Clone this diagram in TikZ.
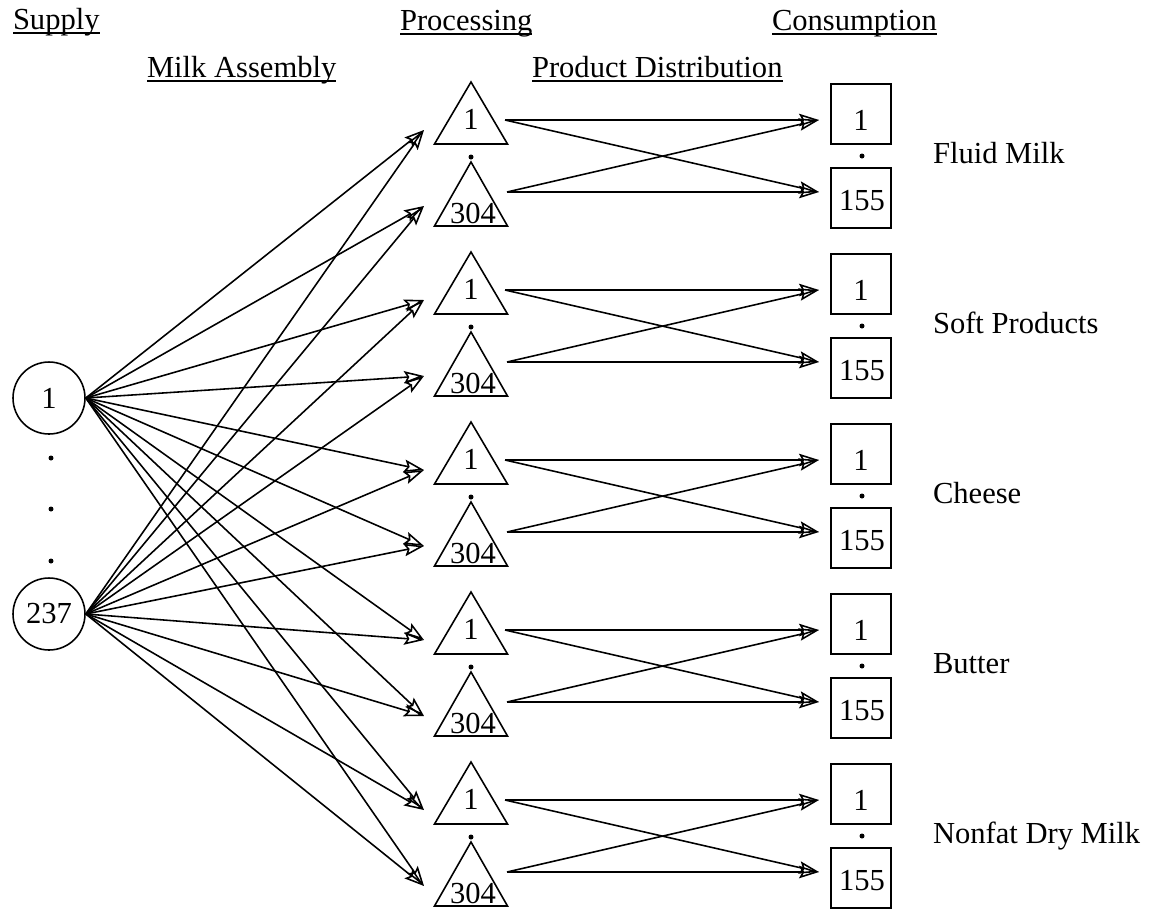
\documentclass[tikz,border=0pt]{standalone}
\usepackage{fontspec}
\setmainfont{Liberation Serif}
\usetikzlibrary{arrows.meta}
\begin{document}
\begin{tikzpicture}[x=0.02cm,y=-0.02cm,
  txt/.style={inner sep=0pt, outer sep=0pt, font=\fontsize{17.4pt}{20pt}\selectfont},
  hdr/.style={txt, anchor=base west},
  ul/.style={line width=1pt},
  circ/.style={draw, circle, minimum size=1.44cm, inner sep=0pt, line width=0.9pt, font=\fontsize{17.4pt}{20pt}\selectfont},
  boxnode/.style={draw, rectangle, minimum width=1.2cm, minimum height=1.2cm, inner sep=0pt, line width=0.9pt},
  tri/.style={draw, line width=0.9pt, line join=miter},
  arr/.style={line width=0.9pt, -{Stealth[open, length=0.4cm, width=0.25cm, inset=0.07cm]}},
  dotm/.style={fill, circle, inner sep=0pt, minimum size=0.1cm}
]
\useasboundingbox (0,0) rectangle (1156,917);
% headers
\node[hdr] (hsup) at (13,29) {Supply};
\node[hdr] (hmilk) at (147,77) {Milk Assembly};
\node[hdr] (hproc) at (400,30) {Processing};
\node[hdr] (hprod) at (532,77) {Product Distribution};
\node[hdr] (hcons) at (772,30) {Consumption};
\foreach \h in {hsup,hmilk,hproc,hprod,hcons}{
  \draw[ul] ([yshift=-0.08cm]\h.base west) -- ([yshift=-0.08cm]\h.base east);
}
% supply circles
\node[circ] (c1) at (49,398) {1};
\node[circ] (c2) at (49,614) {237};
\node[dotm] (cd1) at (51,458) {};
\node[dotm] (cd2) at (51,509) {};
\node[dotm] (cd3) at (51,561) {};
% groups
\foreach \k/\lab in {0/Fluid Milk,1/Soft Products,2/Cheese,3/Butter,4/Nonfat Dry Milk}{
  \pgfmathsetmacro\dy{170*\k}
  % processing triangles
  \draw[tri] (471,82+\dy) -- (434.5,144+\dy) -- (507.5,144+\dy) -- cycle;
  \draw[tri] (471,162+\dy) -- (434.5,226+\dy) -- (507.5,226+\dy) -- cycle;
  \node[txt, anchor=base] (ta\k t) at (471,129+\dy) {1};
  \node[txt, anchor=base] (tb\k t) at (473,223+\dy) {304};
  \node[dotm] (td\k) at (471,157+\dy) {};
  % consumption boxes
  \node[boxnode] (ba\k) at (861,114+\dy) {};
  \node[boxnode] (bb\k) at (861,198+\dy) {};
  \node[txt, anchor=base] (ba\k t) at (861,130+\dy) {1};
  \node[txt, anchor=base] (bb\k t) at (862,210+\dy) {155};
  \node[dotm] (bd\k) at (862,156+\dy) {};
  % label
  \node[hdr] (lab\k) at (933,163+\dy) {\lab};
  % ports
  \coordinate (tai\k) at (424,130+\dy);
  \coordinate (tbi\k) at (424,206+\dy);
  \coordinate (tao\k) at (505,120+\dy);
  \coordinate (tbo\k) at (507,192+\dy);
  \coordinate (bai\k) at (819,120+\dy);
  \coordinate (bbi\k) at (819,192+\dy);
  % milk assembly
  \draw[arr] (c1.east) -- (tai\k);
  \draw[arr] (c2.east) -- (tai\k);
  \draw[arr] (c1.east) -- (tbi\k);
  \draw[arr] (c2.east) -- (tbi\k);
  % product distribution
  \draw[arr] (tao\k) -- (bai\k);
  \draw[arr] (tao\k) -- (bbi\k);
  \draw[arr] (tbo\k) -- (bai\k);
  \draw[arr] (tbo\k) -- (bbi\k);
}
\end{tikzpicture}
\end{document}
